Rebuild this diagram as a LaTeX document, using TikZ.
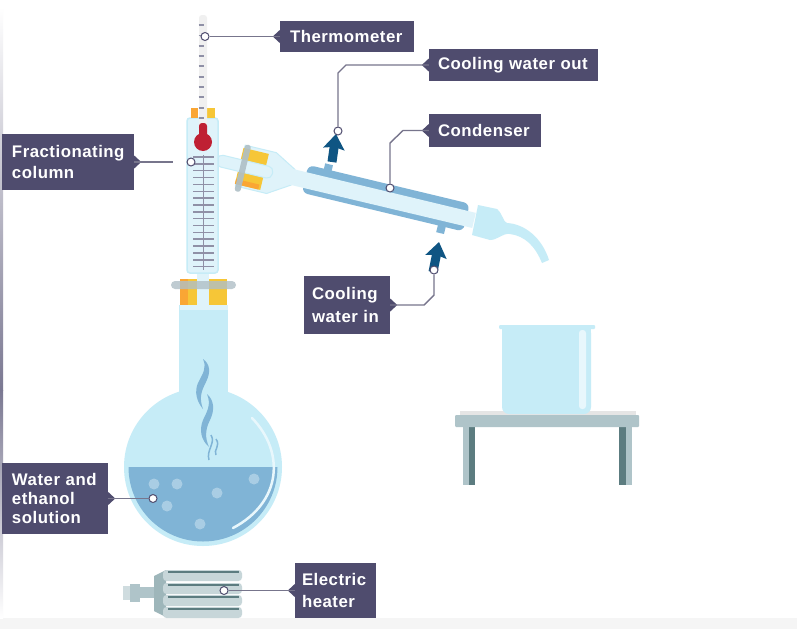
\documentclass[tikz,border=0pt]{standalone}
\usepackage{fontspec}
\setmainfont{Liberation Sans}
\newfontfamily\labelfont[LetterSpace=3,Ligatures=NoCommon]{Liberation Sans}
\usetikzlibrary{arrows.meta,positioning}
\definecolor{labelbg}{HTML}{4F4C6E}
\definecolor{leader}{HTML}{77758C}
\definecolor{glass}{HTML}{C6ECF7}
\definecolor{palegl}{HTML}{DFF3FA}
\definecolor{shine}{HTML}{E8F7FC}
\definecolor{liquid}{HTML}{80B4D6}
\definecolor{bubble}{HTML}{A9CDE4}
\definecolor{stopper}{HTML}{F6C637}
\definecolor{stopperd}{HTML}{FAA634}
\definecolor{clampc}{HTML}{AFBFC6}
\definecolor{steel}{HTML}{AFC4C9}
\definecolor{steeld}{HTML}{5C7C80}
\definecolor{flow}{HTML}{0F5583}
\definecolor{scalec}{HTML}{8F90A6}
\definecolor{bulb}{HTML}{BF2033}
\begin{document}
\begin{tikzpicture}[x=1pt,y=-1pt,>=Stealth,
 labelbox/.style={fill=labelbg,text=white,align=left,inner xsep=9pt,inner ysep=0pt,
 font=\labelfont\bfseries\fontsize{16.8}{21}\selectfont},
 dot/.style={circle,draw=labelbg,fill=white,line width=1pt,inner sep=0pt,minimum size=8pt},
 lead/.style={draw=leader,line width=1.4pt},
 flowarrow/.style={draw=flow,line width=9pt,-{Stealth[inset=2pt,width=21pt,length=15pt]}}]
\useasboundingbox (0,0) rectangle (797,629);
\fill[white] (0,0) rectangle (797,629);
\fill[gray!8] (0,618) rectangle (797,629);
\shade[top color=white,bottom color=labelbg!75!white] (0,7) rectangle (3,390);
\shade[top color=labelbg!75!white,bottom color=white] (0,390) rectangle (3,618);

% table and beaker
\fill[gray!20] (460,411) rectangle (636,416);
\fill[steel] (463,427) rectangle (475,485);
\fill[steeld] (469,427) rectangle (475,485);
\fill[steel] (619,427) rectangle (632,485);
\fill[steeld] (619,427) rectangle (626,485);
\fill[steel,rounded corners=1pt] (455,415) rectangle (639,427);
\fill[glass,rounded corners=7pt] (502,326) rectangle (591,414);
\fill[glass] (502,326) rectangle (591,340);
\fill[glass,rounded corners=1pt] (499,325) rectangle (595,329);
\fill[shine,rounded corners=3pt] (579,330) rectangle (586,409);

% flask
\fill[glass] (203,467) circle (79);
\fill[glass] (179,305) rectangle (228,400);
\fill[liquid] (128.5,467) arc[start angle=180,end angle=360,radius=74.5pt] -- cycle;
\fill[palegl] (180,305) rectangle (228,310);
\draw[shine,line width=2.5pt,line cap=round] (252,418) .. controls (285,452) and (282,502) .. (233,528);
\foreach \bx/\by in {154/484,177/484,167/506,217/493,254/479,200/524}
 \fill[bubble] (\bx,\by) circle (5.5);
\fill[liquid] (203,359) .. controls (210,364) and (211,372) .. (206,382)
 .. controls (201,392) and (199,398) .. (203,409)
 .. controls (197,402) and (194,392) .. (198,383)
 .. controls (203,373) and (207,368) .. (203,359);
\fill[liquid] (207,394) .. controls (214,400) and (215,410) .. (210,420)
 .. controls (205,430) and (205,438) .. (209,447)
 .. controls (201,440) and (199,430) .. (203,420)
 .. controls (208,410) and (211,404) .. (207,394);
\draw[liquid,line width=1.5pt] (211,435) .. controls (216,443) and (206,450) .. (209,460);
\draw[liquid,line width=1.5pt] (216,439) .. controls (221,446) and (213,450) .. (216,455);

% heater
\fill[steel!60!white] (123,586) rectangle (130,600);
\fill[steel] (130,584) rectangle (140,602);
\fill[steel] (140,587) rectangle (156,598);
\fill[steel!80!steeld] (154,576) -- (166,570) -- (166,617) -- (154,611) -- cycle;
\foreach \fy in {570,583,595,607}{
 \fill[steel!70!white,rounded corners=3.5pt] (163,\fy) rectangle (242,\fy+11);
 \draw[steeld,line width=1.4pt] (168,\fy+2) -- (239,\fy+2);
}

% column and lower stopper
\fill[palegl] (197,270) rectangle (209,306);
\fill[stopper] (180,279) rectangle (197,305);
\fill[stopperd] (180,279) rectangle (188,305);
\fill[stopper] (209,279) rectangle (227,305);
\fill[clampc,opacity=.8,rounded corners=4pt] (171,281) rectangle (236,289);

% side arm and condenser
\begin{scope}[shift={(217,160)},rotate=-13.5]
\draw[glass,fill=palegl,line width=1pt] (24,-21) -- (56,-21) -- (78,-9) -- (78,7) -- (56,21) -- (24,21) -- cycle;
\fill[stopper] (23,-18) rectangle (49,-6);
\fill[stopper] (23,6) rectangle (49,19);
\fill[stopperd] (23,14) rectangle (47,19);
\draw[glass,fill=palegl,line width=1pt,rounded corners=5pt] (0,-6) rectangle (57,6);
\fill[clampc,opacity=.9,rounded corners=2.5pt] (24,-22) rectangle (30,26);
\fill[liquid] (106,-22) rectangle (114,-10);
\fill[liquid] (230,6) rectangle (238,19);
\fill[liquid,rounded corners=6pt] (90,-16.5) rectangle (256,12);
\fill[palegl] (76,-9) -- (264,-9) -- (264,6.5) -- (76,7) -- cycle;
\end{scope}
\fill[glass] (478,205) -- (497,209) .. controls (503,214) and (503,222) .. (507,223)
 .. controls (525,224) and (542,238) .. (549,260) -- (542,263)
 .. controls (535,246) and (525,236) .. (510,234)
 .. controls (502,233) and (498,240) .. (490,240) -- (472,235) -- cycle;
\draw[glass,fill=palegl,line width=1.5pt,rounded corners=3pt] (187,118) rectangle (218,273);
\fill[stopperd] (191,108) rectangle (198,118);
\fill[stopper] (207,108) rectangle (215,118);

% thermometer and scale
\fill[gray!12,rounded corners=3pt] (199,15) rectangle (207,128);
\foreach \ty in {25,35.5,46,56,66,77,87,97,108,118,128}
 \draw[scalec,line width=1.5pt] (198.5,\ty) -- (203.5,\ty);
\fill[bulb,rounded corners=3pt] (199,123) rectangle (207,140);
\fill[bulb] (203,142) circle (9);
\foreach \sy in {0,...,16}
 \draw[scalec,line width=1.5pt] (193,157+\sy*6.85) -- (214,157+\sy*6.85);
\draw[scalec,line width=1.5pt] (203.5,155) -- (203.5,270);

% cooling water arrows
\coordinate (outbase) at (332,162);
\coordinate (outtip) at (336,134);
\coordinate (inbase) at (433,272);
\coordinate (intip) at (439,242);
\draw[flowarrow] (outbase) -- (outtip);
\draw[flowarrow] (inbase) -- (intip);

% labels
\node[labelbox,inner xsep=10pt,text width=114pt,minimum height=31pt] (thermo) at (347,36.5) {Thermometer};
\node[labelbox,text width=151pt,minimum height=32pt] (waterout) at (513.5,65) {Cooling water out};
\node[labelbox,text width=94pt,minimum height=33pt] (condenser) at (485,130.5) {Condenser};
\node[labelbox,inner xsep=10pt,text width=112pt,minimum height=56pt] (column) at (68,162) {Fractionating\\column};
\node[labelbox,inner xsep=8pt,text width=70pt,minimum height=58pt] (waterin) at (347,305) {Cooling\\[2pt]water in};
\node[labelbox,inner xsep=10pt,text width=86pt,minimum height=71pt] (solution) at (55,498.5) {Water and\\[-2pt]ethanol\\[-2pt]solution};
\node[labelbox,inner xsep=7pt,text width=67pt,minimum height=55pt] (heater) at (335.5,590.5) {Electric\\[1pt]heater};

% pointers on the labels
\foreach \lb in {thermo,waterout,condenser,heater}
 \fill[labelbg] ([yshift=6.5pt]\lb.west) -- ([xshift=-7pt]\lb.west) -- ([yshift=-6.5pt]\lb.west) -- cycle;
\foreach \lb in {column,waterin,solution}
 \fill[labelbg] ([yshift=6.5pt]\lb.east) -- ([xshift=7pt]\lb.east) -- ([yshift=-6.5pt]\lb.east) -- cycle;

% leaders
\node[dot] (thermodot) at (205,36.5) {};
\node[dot] (outdot) at (338,131) {};
\node[dot] (conddot) at (390,188) {};
\node[dot] (columndot) at (191,162) {};
\node[dot] (indot) at (434,270) {};
\node[dot] (soldot) at (153,498.5) {};
\node[dot] (heatdot) at (224,590.5) {};
\coordinate (columnend) at (173,162);
\draw[lead] (thermo.west) -- (thermodot);
\draw[lead] (waterout.west) -- (346,65) -- (338,73) -- (outdot);
\draw[lead] (condenser.west) -- (403,130.5) -- (390,143) -- (conddot);
\draw[lead] (column.east) -- (columnend);
\draw[lead] (waterin.east) -- (424,305) -- (434,295) -- (indot);
\draw[lead] (solution.east) -- (soldot);
\draw[lead] (heater.west) -- (heatdot);
\end{tikzpicture}
\end{document}
